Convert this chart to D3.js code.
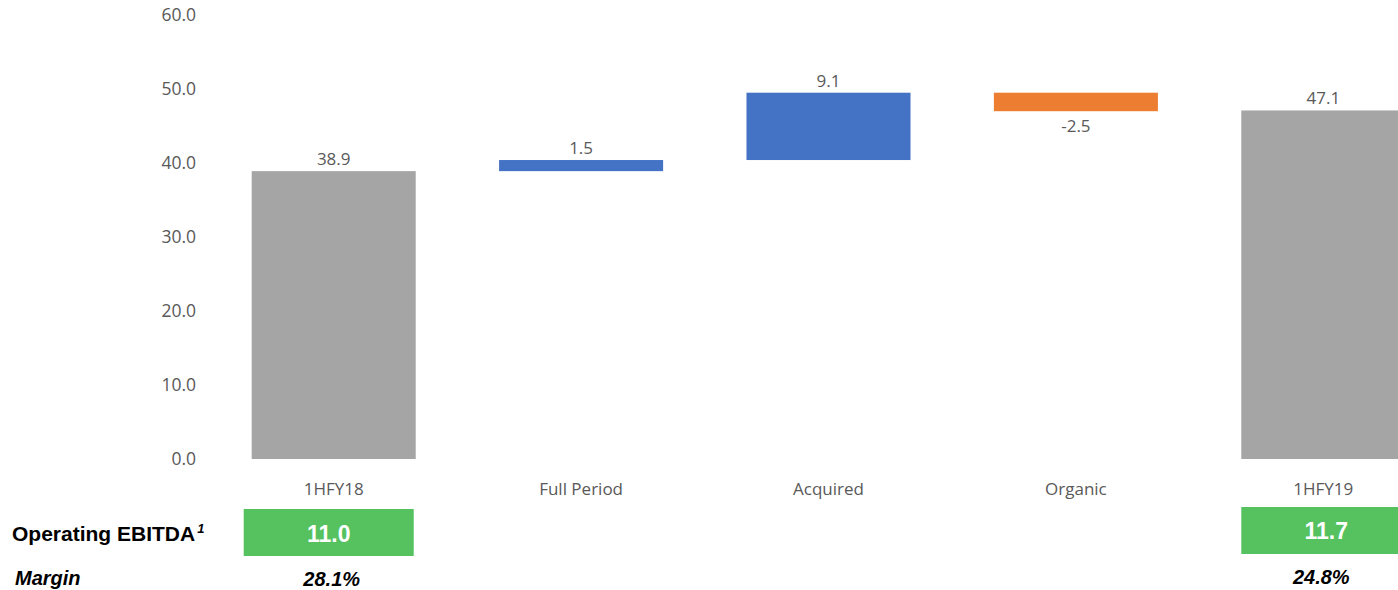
<!DOCTYPE html>
<html lang="en">
<head>
<meta charset="UTF-8">
<title>Waterfall</title>
<style>
  body { margin: 0; background: #fff; overflow: hidden; }
  svg text { font-family: "Open Sans", sans-serif; }
</style>
</head>
<body>
<svg id="chart" width="1398" height="590"></svg>
<script src="https://d3js.org/d3.v7.min.js"></script>
<script>
// data
const categories = ["1HFY18", "Full Period", "Acquired", "Organic", "1HFY19"];
const values = [38.9, 1.5, 9.1, -2.5, 47.1];
const kinds = ["total", "delta", "delta", "delta", "total"];
const yTicks = [0, 10, 20, 30, 40, 50, 60];
const ebitdaCats = ["1HFY18", "1HFY19"];
const ebitdaValues = [11.0, 11.7];
const marginValues = ["28.1%", "24.8%"];

const width = 1398, height = 590;
const svg = d3.select("#chart");

const x = d3.scaleBand().domain(categories).range([210, 1447]).paddingInner(0.337).paddingOuter(0.1685);
const y = d3.scaleLinear().domain([0, 60]).range([459, 15]);

// build waterfall segments
let run = 0;
const bars = categories.map((c, i) => {
  let lo, hi;
  if (kinds[i] === "total") { lo = 0; hi = values[i]; run = values[i]; }
  else { lo = run; hi = run + values[i]; run = hi; }
  return { cat: c, v: values[i], kind: kinds[i], lo: Math.min(lo, hi), hi: Math.max(lo, hi) };
});

const color = d => d.kind === "total" ? "#A5A5A5" : (d.v >= 0 ? "#4472C4" : "#ED7D31");

// y axis labels
svg.append("g").selectAll("text").data(yTicks).join("text")
  .attr("x", 196).attr("y", d => y(d) + 6)
  .attr("text-anchor", "end")
  .attr("fill", "#595959").style("font-size", "17.5px")
  .text(d => d.toFixed(1));

// bars
svg.append("g").selectAll("rect").data(bars).join("rect")
  .attr("x", d => x(d.cat))
  .attr("width", x.bandwidth())
  .attr("y", d => y(d.hi))
  .attr("height", d => y(d.lo) - y(d.hi))
  .attr("fill", color);

// value labels
svg.append("g").selectAll("text").data(bars).join("text")
  .attr("x", d => x(d.cat) + x.bandwidth() / 2)
  .attr("y", d => d.v < 0 ? y(d.lo) + 21 : y(d.hi) - 6)
  .attr("text-anchor", "middle")
  .attr("fill", "#595959").style("font-size", "17px")
  .text(d => d.v.toFixed(1));

// category labels
svg.append("g").selectAll("text").data(categories).join("text")
  .attr("x", d => x(d) + x.bandwidth() / 2)
  .attr("y", 495)
  .attr("text-anchor", "middle")
  .attr("fill", "#595959").style("font-size", "17px")
  .text(d => d);

// operating EBITDA row
const lbl = svg.append("text")
  .attr("x", 12).attr("y", 541)
  .style("font-family", "'Liberation Sans', Arial, sans-serif")
  .style("font-size", "21px").style("font-weight", "bold").attr("fill", "#000");
lbl.append("tspan").text("Operating EBITDA");
lbl.append("tspan").attr("dx", 2).attr("dy", -8).style("font-size", "13px").style("font-style", "italic").text("1");

const boxX = (d, i) => i === 0 ? x(d) - 8 : x(d);
const boxes = svg.append("g").selectAll("g").data(ebitdaCats).join("g");
boxes.append("rect")
  .attr("x", boxX)
  .attr("y", (d, i) => i === 0 ? 509 : 507)
  .attr("width", x.bandwidth() + 6)
  .attr("height", 47)
  .attr("fill", "#55C25F");
boxes.append("text")
  .attr("x", (d, i) => boxX(d, i) + (x.bandwidth() + 6) / 2)
  .attr("y", (d, i) => i === 0 ? 542 : 539)
  .attr("text-anchor", "middle")
  .style("font-family", "'Liberation Sans', Arial, sans-serif")
  .style("font-size", "23px").style("font-weight", "bold").attr("fill", "#fff")
  .text((d, i) => ebitdaValues[i].toFixed(1));

// margin row
svg.append("text")
  .attr("x", 15).attr("y", 585)
  .style("font-family", "'Liberation Sans', Arial, sans-serif")
  .style("font-size", "20px").style("font-weight", "bold").style("font-style", "italic")
  .text("Margin");
svg.append("g").selectAll("text").data(ebitdaCats).join("text")
  .attr("x", (d, i) => boxX(d, i) + (x.bandwidth() + 6) / 2 + (i === 0 ? 3 : -5))
  .attr("y", (d, i) => i === 0 ? 586 : 584)
  .attr("text-anchor", "middle")
  .style("font-family", "'Liberation Sans', Arial, sans-serif")
  .style("font-size", "20px").style("font-weight", "bold").style("font-style", "italic")
  .text((d, i) => marginValues[i]);
</script>
</body>
</html>
